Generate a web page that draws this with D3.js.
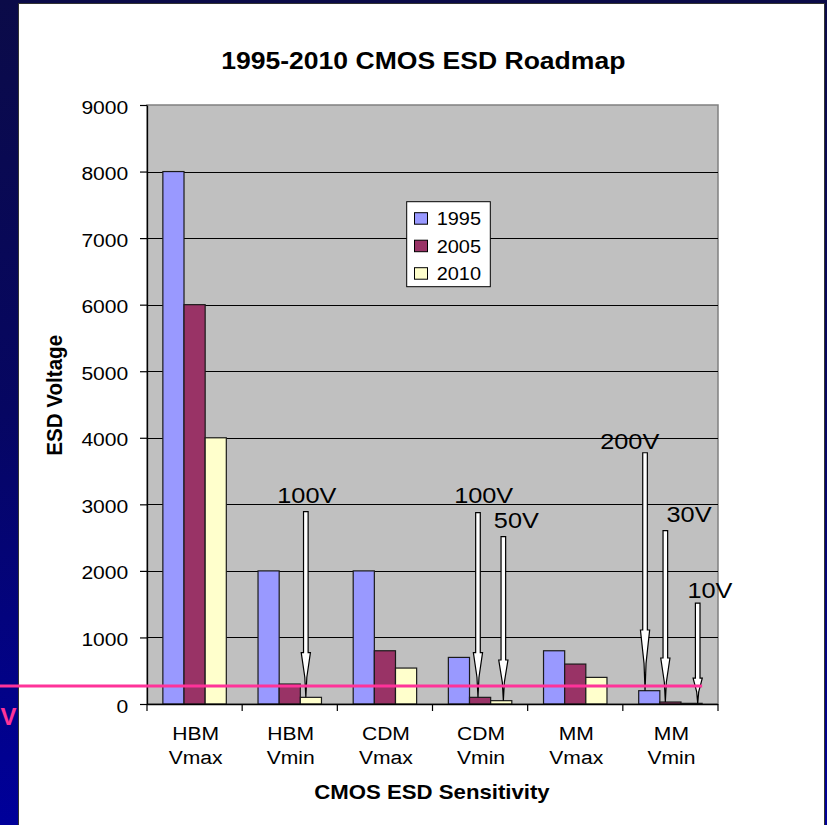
<!DOCTYPE html>
<html>
<head>
<meta charset="utf-8">
<script src="https://cdn.jsdelivr.net/npm/d3@7"></script>
<style>
  html, body { margin: 0; padding: 0; background: #000060; }
  svg { display: block; }
  text { font-family: "Liberation Sans", Arial, sans-serif; }
</style>
</head>
<body>
<svg id="chart" width="827" height="825"></svg>
<script>
// ---------- data ----------
const categories = ["HBM Vmax", "HBM Vmin", "CDM Vmax", "CDM Vmin", "MM Vmax", "MM Vmin"];
const seriesNames = ["1995", "2005", "2010"];
const values1995 = [8000, 2000, 2000, 700, 800, 200];
const values2005 = [6000, 300, 800, 100, 600, 30];
const values2010 = [4000, 100, 540, 50, 400, 10];
const yTicks = [0, 1000, 2000, 3000, 4000, 5000, 6000, 7000, 8000, 9000];
const chartTitle = "1995-2010 CMOS ESD Roadmap";
const xTitle = "CMOS ESD Sensitivity";
const yTitle = "ESD Voltage";

// arrow annotations (values in volts)
const arrowLabels = ["100V", "100V", "50V", "200V", "30V", "10V"];
const arrowCats = ["HBM Vmin", "CDM Vmin", "CDM Vmin", "MM Vmin", "MM Vmin", "MM Vmin"];
const arrowSeries = ["2010", "2005", "2010", "1995", "2005", "2010"];
const arrowTops = [2890, 2875, 2515, 3775, 2605, 1515];
const arrowHeadStarts = [771, 771, 661, 1112, 691, 390];
const markerValue = 270; // pink reference line
const markerLabel = "V";

// ---------- layout / style ----------
const W = 827, H = 825;
const plot = { left: 147, right: 718, top: 105, bottom: 704 };
const colors = { "1995": "#9999ff", "2005": "#993366", "2010": "#ffffcc" };
const SX = 1.11; // horizontal text stretch of the original slide
const arrowFrac = [0.26, 0.40, 0.60, 0.30, 0.26, 0.79];
const labelDx = [1, 5.7, 13, -15.3, 23.7, 12.2];
const labelDy = [8.7, 9.7, 8.7, 3.4, 9, 4.7];

const seriesValues = { "1995": values1995, "2005": values2005, "2010": values2010 };

const svg = d3.select("#chart");

// slide background
const defs = svg.append("defs");
const grad = defs.append("linearGradient").attr("id", "bg").attr("x1", 0).attr("y1", 0).attr("x2", 0).attr("y2", 1);
grad.append("stop").attr("offset", "0%").attr("stop-color", "#0b0b48");
grad.append("stop").attr("offset", "50%").attr("stop-color", "#060662");
grad.append("stop").attr("offset", "100%").attr("stop-color", "#00009a");
svg.append("rect").attr("width", W).attr("height", H).attr("fill", "url(#bg)");
svg.append("rect").attr("x", 18.5).attr("y", 3.5).attr("width", 806).attr("height", 830)
  .attr("fill", "#ffffff").attr("stroke", "#333333").attr("stroke-width", 1);

function sText(g, x, y, str, o) {
  return g.append("text")
    .attr("transform", `translate(${x},${y}) scale(${o.sx || SX},1)`)
    .attr("text-anchor", o.anchor || "middle")
    .attr("font-size", o.size)
    .attr("font-weight", o.weight || "normal")
    .attr("fill", o.fill || "#000")
    .text(str);
}

// scales
const x = d3.scaleBand().domain(categories).range([plot.left, plot.right]).paddingInner(0).paddingOuter(0);
const xs = d3.scaleBand().domain(seriesNames).range([0, x.bandwidth()]).paddingInner(0).paddingOuter(0.75);
const y = d3.scaleLinear().domain([0, 9000]).range([plot.bottom, plot.top]);

// plot area
svg.append("rect")
  .attr("x", plot.left).attr("y", plot.top)
  .attr("width", plot.right - plot.left).attr("height", plot.bottom - plot.top)
  .attr("fill", "#c0c0c0").attr("stroke", "#808080").attr("stroke-width", 1.5);

// gridlines
svg.append("g").selectAll("line")
  .data(yTicks.filter(t => t > 0 && t < 9000))
  .join("line")
  .attr("x1", plot.left).attr("x2", plot.right)
  .attr("y1", d => Math.round(y(d)) + 0.5).attr("y2", d => Math.round(y(d)) + 0.5)
  .attr("stroke", "#000").attr("stroke-width", 1);

// bars
const barData = [];
categories.forEach((c, i) => seriesNames.forEach(s => barData.push({ c, s, v: seriesValues[s][i] })));
svg.append("g").selectAll("rect")
  .data(barData)
  .join("rect")
  .attr("x", d => x(d.c) + xs(d.s))
  .attr("y", d => y(d.v))
  .attr("width", xs.bandwidth())
  .attr("height", d => y(0) - y(d.v))
  .attr("fill", d => colors[d.s])
  .attr("stroke", "#1a1a1a").attr("stroke-width", 1.2);

// y axis
const yAxis = svg.append("g").attr("transform", `translate(${plot.left},0)`)
  .call(d3.axisLeft(y).tickValues(yTicks).tickSize(7).tickSizeOuter(0).tickFormat(d3.format("d")));
yAxis.select(".domain").attr("stroke", "#000").attr("stroke-width", 1.3);
yAxis.selectAll(".tick line").attr("stroke", "#000").attr("stroke-width", 1.2);
yAxis.selectAll(".tick text")
  .attr("x", null).attr("dy", null).attr("y", 8)
  .attr("transform", `translate(-18.7,0) scale(${SX},1)`)
  .attr("font-size", 19).attr("font-family", "Liberation Sans, Arial, sans-serif").attr("fill", "#000");

// x axis
const xAxis = svg.append("g").attr("transform", `translate(0,${plot.bottom})`);
xAxis.append("line").attr("x1", plot.left).attr("x2", plot.right).attr("y1", 0.5).attr("y2", 0.5)
  .attr("stroke", "#000").attr("stroke-width", 1.3);
const boundaries = categories.map(c => x(c)).concat([x(categories[categories.length - 1]) + x.bandwidth()]);
xAxis.selectAll("line.tk").data(boundaries).join("line").attr("class", "tk")
  .attr("x1", d => d).attr("x2", d => d).attr("y1", 0).attr("y2", 7)
  .attr("stroke", "#000").attr("stroke-width", 1.2);
categories.forEach(c => {
  const parts = c.split(" ");
  const cx = x(c) + x.bandwidth() / 2 + 1;
  sText(svg, cx, plot.bottom + 36, parts[0], { size: 19 });
  sText(svg, cx, plot.bottom + 60, parts[1], { size: 19 });
});

// titles
sText(svg, 423.3, 69.3, chartTitle, { size: 23.5, weight: "bold", sx: 1.13 });
sText(svg, 432, 799.3, xTitle, { size: 20, weight: "bold" });
svg.append("text")
  .attr("transform", `translate(62,395.3) rotate(-90) scale(1.03,${SX})`)
  .attr("text-anchor", "middle").attr("font-size", 20).attr("font-weight", "bold")
  .text(yTitle);

// legend
const lg = svg.append("g");
lg.append("rect").attr("x", 406.7).attr("y", 201.7).attr("width", 83.6).attr("height", 85)
  .attr("fill", "#fff").attr("stroke", "#000").attr("stroke-width", 1);
seriesNames.forEach((s, i) => {
  const rowY = 212.7 + i * 27.5;
  lg.append("rect").attr("x", 414.5).attr("y", rowY).attr("width", 13).attr("height", 11.5)
    .attr("fill", colors[s]).attr("stroke", "#000").attr("stroke-width", 1);
  sText(lg, 436.7, rowY + 12.5, s, { size: 17.5, anchor: "start", sx: 1.14 });
});

// arrows
const ag = svg.append("g");
arrowLabels.forEach((lab, i) => {
  const c = arrowCats[i], s = arrowSeries[i];
  const ci = categories.indexOf(c);
  const cx = x(c) + xs(s) + xs.bandwidth() * arrowFrac[i];
  const yTop = y(arrowTops[i]);
  const yHead = y(arrowHeadStarts[i]);
  const yTip = y(seriesValues[s][ci]);
  const sw = 2.3, hw = 4.6;
  const pts = [[cx - sw, yTop], [cx + sw, yTop], [cx + sw, yHead], [cx + hw, yHead],
               [cx + 1, yHead + (yTip - yHead) * 0.55], [cx, yTip],
               [cx - 1, yHead + (yTip - yHead) * 0.55], [cx - hw, yHead], [cx - sw, yHead]];
  ag.append("path")
    .attr("d", d3.line()(pts) + "Z")
    .attr("fill", "#fff").attr("stroke", "#000").attr("stroke-width", 1.2).attr("stroke-linejoin", "miter");
  sText(ag, cx + labelDx[i], yTop - labelDy[i], lab, { size: 22, sx: 1.15 });
});

// pink marker line and label
svg.append("line")
  .attr("x1", 0).attr("x2", x("MM Vmin") + xs("2010") + xs.bandwidth())
  .attr("y1", y(markerValue)).attr("y2", y(markerValue))
  .attr("stroke", "#ff3399").attr("stroke-width", 3);
svg.append("text")
  .attr("x", 0.5).attr("y", 725)
  .attr("text-anchor", "start").attr("font-size", 24).attr("font-weight", "bold")
  .attr("fill", "#ff3399").text(markerLabel);
</script>
</body>
</html>
